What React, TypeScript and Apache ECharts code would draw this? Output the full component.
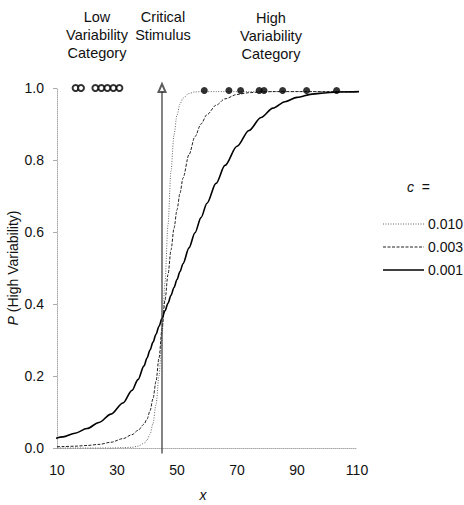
import React, { useEffect, useRef } from "react";
import * as echarts from "echarts";

// Shared x grid for the three response curves
const xGrid = [8.5, 12, 16, 20, 24, 28, 32, 35, 37, 39, 40, 41, 42, 43, 44, 45, 46, 47, 48, 49, 50, 51, 52, 54, 56, 58, 60, 63, 66, 70, 74, 78, 82, 86, 90, 95, 100, 105, 111];

// c = 0.010 (dotted)
const curveC010 = [0, 0, 0, 0, 0, 0, 0.001, 0.002, 0.005, 0.013, 0.022, 0.038, 0.068, 0.12, 0.2, 0.315, 0.46, 0.62, 0.77, 0.87, 0.925, 0.955, 0.972, 0.985, 0.989, 0.99, 0.99, 0.99, 0.99, 0.99, 0.99, 0.99, 0.99, 0.99, 0.99, 0.99, 0.99, 0.99, 0.99];
// c = 0.003 (dashed)
const curveC003 = [0.003, 0.004, 0.005, 0.007, 0.01, 0.016, 0.026, 0.037, 0.049, 0.066, 0.08, 0.103, 0.137, 0.185, 0.25, 0.33, 0.41, 0.482, 0.55, 0.61, 0.662, 0.708, 0.75, 0.815, 0.865, 0.9, 0.926, 0.952, 0.97, 0.982, 0.987, 0.989, 0.99, 0.99, 0.99, 0.99, 0.99, 0.99, 0.99];
// c = 0.001 (solid)
const curveC001 = [0.024, 0.031, 0.041, 0.054, 0.071, 0.094, 0.125, 0.16, 0.19, 0.228, 0.25, 0.272, 0.294, 0.316, 0.338, 0.36, 0.381, 0.402, 0.424, 0.446, 0.468, 0.49, 0.512, 0.556, 0.598, 0.64, 0.68, 0.735, 0.785, 0.838, 0.882, 0.918, 0.944, 0.962, 0.974, 0.983, 0.987, 0.989, 0.99];

// Training exemplars
const lowVarX = [16.2, 18, 22.8, 24.8, 26.8, 28.8, 30.8];
const lowVarY = 1.0;
const highVarX = [59.1, 67.3, 71.2, 77.4, 79, 85.2, 93.2, 103.2];
const highVarY = 0.993;

const criticalX = 45;

const xTicks = [10, 30, 50, 70, 90, 110];
const legendLabels = ["0.010", "0.003", "0.001"];

const FONT = "'Liberation Sans', Arial, sans-serif";

export default function App() {
  const ref = useRef<HTMLDivElement>(null);

  useEffect(() => {
    if (!ref.current) return;
    const chart = echarts.init(ref.current, null, { renderer: "svg" });

    const toPairs = (ys: number[]) => xGrid.map((x, i) => [x, ys[i]]);

    const legendStyles = [
      { stroke: "#666", lineWidth: 1, lineDash: [1, 1.5] },
      { stroke: "#222", lineWidth: 1, lineDash: [3, 1.5] },
      { stroke: "#000", lineWidth: 1.6, lineDash: null as any },
    ];
    const legendYs = [224, 247, 270];

    const graphics: any[] = [
      {
        type: "text",
        x: 97,
        y: 8,
        style: {
          text: "Low\nVariability\nCategory",
          textAlign: "center",
          textVerticalAlign: "top",
          font: `14.5px ${FONT}`,
          lineHeight: 18,
          fill: "#111",
        },
      },
      {
        type: "text",
        x: 163,
        y: 8,
        style: {
          text: "Critical\nStimulus",
          textAlign: "center",
          textVerticalAlign: "top",
          font: `14.5px ${FONT}`,
          lineHeight: 18,
          fill: "#111",
        },
      },
      {
        type: "text",
        x: 271,
        y: 9,
        style: {
          text: "High\nVariability\nCategory",
          textAlign: "center",
          textVerticalAlign: "top",
          font: `14.5px ${FONT}`,
          lineHeight: 18,
          fill: "#111",
        },
      },
      {
        type: "text",
        x: 13,
        y: 268,
        rotation: Math.PI / 2,
        style: {
          text: "{i|P} (High Variability)",
          textAlign: "center",
          textVerticalAlign: "middle",
          font: `14px ${FONT}`,
          fill: "#111",
          rich: { i: { fontStyle: "italic", font: `italic 14px ${FONT}`, fill: "#111" } },
        },
      },
      {
        type: "text",
        x: 203,
        y: 495,
        style: {
          text: "x",
          textAlign: "center",
          textVerticalAlign: "middle",
          font: `italic 14px ${FONT}`,
          fill: "#111",
        },
      },
      {
        type: "text",
        x: 407,
        y: 187,
        style: {
          text: "{i|c}  =",
          textAlign: "left",
          textVerticalAlign: "middle",
          font: `14px ${FONT}`,
          fill: "#111",
          rich: { i: { font: `italic 14px ${FONT}`, fill: "#111" } },
        },
      },
    ];
    legendLabels.forEach((lab, i) => {
      graphics.push({
        type: "line",
        shape: { x1: 383, y1: legendYs[i], x2: 424, y2: legendYs[i] },
        style: legendStyles[i],
      });
      graphics.push({
        type: "text",
        x: 428,
        y: legendYs[i],
        style: {
          text: lab,
          textAlign: "left",
          textVerticalAlign: "middle",
          font: `14px ${FONT}`,
          fill: "#111",
        },
      });
    });

    chart.setOption({
      animation: false,
      grid: { left: 57, right: 107, top: 88, bottom: 57 },
      xAxis: {
        type: "value",
        min: 10,
        max: 110,
        interval: 20,
        axisLine: { show: true, lineStyle: { color: "#aaa", type: "dotted", width: 1 } },
        axisTick: { show: false },
        splitLine: { show: false },
        axisLabel: {
          fontSize: 14,
          fontFamily: FONT,
          color: "#111",
          margin: 15,
          formatter: (v: number) => (xTicks.includes(v) ? String(v) : ""),
        },
      },
      yAxis: {
        type: "value",
        min: 0,
        max: 1,
        interval: 0.2,
        axisLine: { show: true, lineStyle: { color: "#aaa", type: "dotted", width: 1 } },
        axisTick: { show: true, length: 4, lineStyle: { color: "#aaa" } },
        splitLine: { show: false },
        axisLabel: {
          fontSize: 14,
          fontFamily: FONT,
          color: "#111",
          margin: 13,
          formatter: (v: number) => v.toFixed(1),
        },
      },
      graphic: graphics,
      series: [
        {
          type: "line",
          name: "0.010",
          data: toPairs(curveC010),
          showSymbol: false,
          smooth: 0.3,
          smoothMonotone: "x",
          clip: false,
          lineStyle: { color: "#666", width: 1, type: [1, 1.5] },
          z: 2,
        },
        {
          type: "line",
          name: "0.003",
          data: toPairs(curveC003),
          showSymbol: false,
          smooth: 0.3,
          smoothMonotone: "x",
          clip: false,
          lineStyle: { color: "#222", width: 1, type: [3, 1.5] },
          z: 2,
        },
        {
          type: "line",
          name: "0.001",
          data: toPairs(curveC001),
          showSymbol: false,
          smooth: 0.3,
          smoothMonotone: "x",
          clip: false,
          lineStyle: { color: "#000", width: 1.6 },
          z: 2,
        },
        {
          type: "line",
          data: [
            [criticalX, -0.015],
            [criticalX, 0.99],
          ],
          showSymbol: false,
          clip: false,
          lineStyle: { color: "#333", width: 1.2 },
          z: 3,
        },
        {
          type: "scatter",
          data: [[criticalX, 1.0]],
          symbol: "emptyTriangle",
          symbolSize: [7, 8],
          clip: false,
          itemStyle: { color: "#333", borderWidth: 1.2 },
          z: 4,
        },
        {
          type: "scatter",
          data: highVarX.map((x) => [x, highVarY]),
          symbol: "circle",
          symbolSize: 7,
          clip: false,
          itemStyle: { color: "#000" },
          z: 5,
        },
        {
          type: "scatter",
          data: lowVarX.map((x) => [x, lowVarY]),
          symbol: "emptyCircle",
          symbolSize: 6,
          clip: false,
          itemStyle: { color: "#000", borderWidth: 1 },
          z: 5,
        },
      ],
    });

    return () => chart.dispose();
  }, []);

  return (
    <div
      ref={ref}
      style={{ position: "absolute", left: 0, top: 0, width: 464, height: 505, background: "#fff" }}
    />
  );
}
